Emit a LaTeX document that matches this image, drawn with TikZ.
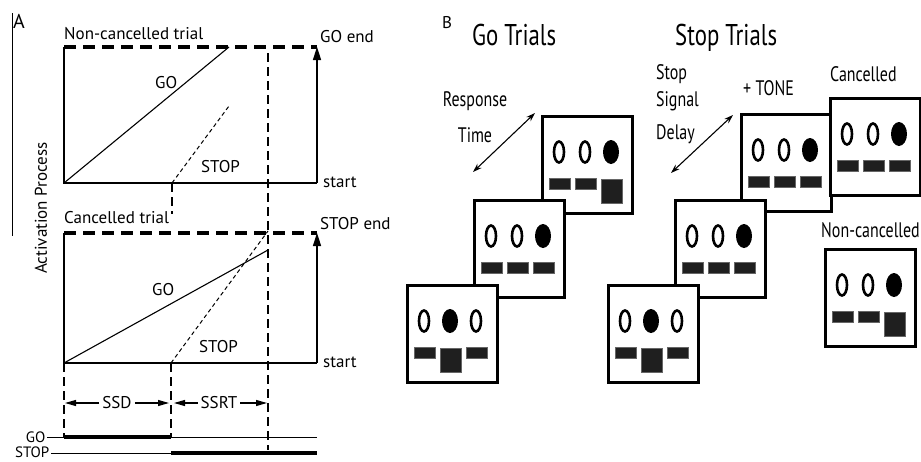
\documentclass[tikz,border=0pt]{standalone}
\usepackage{fontspec}
\setmainfont{PT Sans}
\newfontfamily\condfont[FakeStretch=0.76]{PT Sans}
\usetikzlibrary{arrows.meta}
\newcommand{\openring}[1]{\draw[ringline] (#1,37) ellipse [x radius=5pt, y radius=10.5pt];}
\newcommand{\fulldot}[1]{\fill (#1,37) ellipse [x radius=8pt, y radius=12pt];}
\newcommand{\keybar}[1]{\filldraw[keystyle] (#1,63) rectangle +(21,11);}
\newcommand{\keysq}[1]{\filldraw[keystyle] (#1,64) rectangle +(21,24);}
\newcommand{\screenat}[4]{%
  \begin{scope}[shift={(#2,#3)}]
    \node[screen] (#1) at (0,0) {};
    #4
  \end{scope}}
\newcommand{\rowOOF}{\openring{18}\openring{44}\fulldot{70}}
\newcommand{\rowOFO}{\openring{18}\fulldot{44}\openring{70}}
\newcommand{\keysBBB}{\keybar{8}\keybar{34}\keybar{60}}
\newcommand{\keysBBS}{\keybar{8}\keybar{34}\keysq{60}}
\newcommand{\keysBSB}{\keybar{8}\keysq{34}\keybar{60}}
\begin{document}
\begin{tikzpicture}[x=1pt,y=-1pt,
  lbl/.style={font=\fontsize{17}{20}\selectfont, inner sep=0pt},
  smlbl/.style={font=\fontsize{15}{17}\selectfont, inner sep=1.5pt},
  blbl/.style={font=\condfont\fontsize{21}{24}\selectfont, inner sep=0pt},
  ttl/.style={font=\condfont\fontsize{30}{32}\selectfont, inner sep=0pt},
  axisline/.style={line width=1.1pt},
  enddash/.style={line width=3.5pt, dash pattern=on 12pt off 7pt},
  vdash/.style={line width=1.1pt, dash pattern=on 9pt off 5pt},
  stopdash/.style={line width=1pt, dash pattern=on 4pt off 3pt},
  uparr/.style={line width=1.6pt, -{Triangle[length=13pt,width=8pt]}},
  spanarr/.style={line width=1.1pt, -{Triangle[length=11pt,width=6pt]}},
  duoarr/.style={line width=1.1pt, {Stealth[length=9pt,width=6pt]}-{Stealth[length=9pt,width=6pt]}},
  screen/.style={draw, line width=3pt, fill=white, minimum width=90pt, minimum height=97pt, anchor=north west, inner sep=0pt},
  ringline/.style={line width=2.6pt},
  keystyle/.style={fill=black!88, draw=black!60, line width=1pt},
  thickbar/.style={line width=4pt}
]
\useasboundingbox (0,0) rectangle (921,461);

% ---------------- Panel A ----------------
\node[font=\fontsize{20}{22}\selectfont, inner sep=0pt, anchor=base west] (labA) at (13,28) {A};
\coordinate (sideT) at (12,13);
\coordinate (sideB) at (12,236);
\draw[line width=0.8pt] (sideT) -- (sideB);
\node[lbl, rotate=90, anchor=center] (ylab) at (41,208) {Activation Process};

% top plot
\coordinate (t0) at (64,47);
\coordinate (t1) at (317,47);
\coordinate (b0) at (64,183);
\coordinate (b1) at (317,183);
\coordinate (goT) at (229,47);
\coordinate (ssdT) at (172,183);
\coordinate (ssdTlow) at (172,214);
\coordinate (stopT) at (229,106);
\draw[axisline] (t0) -- (b0) -- (b1);
\draw[enddash] (t0) -- (t1);
\draw[uparr] (b1) -- (t1);
\draw[line width=1.1pt] (b0) -- (goT);
\draw[stopdash] (ssdT) -- (stopT);
\draw[vdash] (ssdT) -- (ssdTlow);
\node[lbl, anchor=base west] (nct) at (64,39) {Non-cancelled trial};
\node[lbl, anchor=base west] (goend) at (320,42) {GO end};
\node[lbl, anchor=base west] (go1) at (155,88) {GO};
\node[lbl, anchor=base west] (stop1) at (201,172) {STOP};
\node[lbl, anchor=base west] (start1) at (323,187) {start};

% bottom plot
\coordinate (u0) at (64,233);
\coordinate (u1) at (317,233);
\coordinate (l0) at (64,363);
\coordinate (l1) at (317,363);
\coordinate (goB) at (268,250);
\coordinate (ssdB) at (171,363);
\coordinate (stopB) at (268,231);
\draw[axisline] (u0) -- (l0) -- (l1);
\draw[enddash] (u0) -- (u1);
\draw[uparr] (l1) -- (u1);
\draw[line width=1.1pt] (l0) -- (goB);
\draw[stopdash] (ssdB) -- (stopB);
\node[lbl, anchor=base west] (ct) at (64,223) {Cancelled trial};
\node[lbl, anchor=base west] (stopend) at (320,229) {STOP end};
\node[lbl, anchor=base west] (go2) at (152,295) {GO};
\node[lbl, anchor=base west] (stop2) at (199,352) {STOP};
\node[lbl, anchor=base west] (start2) at (323,367) {start};

% vertical markers
\coordinate (v3top) at (268,53);
\coordinate (v3bot) at (268,450);
\coordinate (v1bot) at (64,437);
\coordinate (v2bot) at (171,437);
\draw[vdash] (v3top) -- (v3bot);
\draw[vdash] (l0) -- (v1bot);
\draw[vdash] (ssdB) -- (v2bot);

% SSD / SSRT
\coordinate (m0) at (65,403);
\coordinate (m1) at (169,403);
\coordinate (m2) at (174,403);
\coordinate (m3) at (267,403);
\node[lbl, inner sep=3pt] (ssd) at (117,403) {SSD};
\node[lbl, inner sep=3pt] (ssrt) at (219,403) {SSRT};
\draw[spanarr] (ssd) -- (m0);
\draw[spanarr] (ssd) -- (m1);
\draw[spanarr] (ssrt) -- (m2);
\draw[spanarr] (ssrt) -- (m3);

% timelines
\node[smlbl, anchor=east] (golbl) at (47,437) {GO};
\node[smlbl, anchor=east] (stoplbl) at (51,452) {STOP};
\coordinate (goLineEnd) at (317,437);
\coordinate (stopLineStart) at (171,453);
\coordinate (stopLineEnd) at (317,453);
\draw[line width=1pt] (golbl.east) -- (goLineEnd);
\draw[line width=1pt] (stoplbl.east |- stopLineEnd) -- (stopLineEnd);
\draw[thickbar] (v1bot) -- (v2bot);
\draw[thickbar] (stopLineStart) -- (stopLineEnd);

% ---------------- Panel B ----------------
\node[font=\fontsize{17}{18}\selectfont, inner sep=0pt, anchor=base west] (labB) at (442,28) {B};
\node[ttl, anchor=base west] (gotitle) at (472,45) {Go Trials};
\node[ttl, anchor=base west] (stoptitle) at (675,45) {Stop Trials};

% go trials screens
\screenat{g1}{541}{115}{\rowOOF\keysBBS}
\screenat{g2}{473}{199}{\rowOOF\keysBBB}
\screenat{g3}{406}{284}{\rowOFO\keysBSB}

% stop trials screens
\screenat{s1}{740}{113}{\rowOOF\keysBBB}
\screenat{sc}{829}{97}{\rowOOF\keysBBB}
\screenat{s2}{674}{199}{\rowOOF\keysBBB}
\screenat{s3}{607}{284}{\rowOFO\keysBSB}
\screenat{snc}{824}{248}{\rowOOF\keysBBS}

% labels B
\node[blbl, anchor=base] (resp) at (475,106) {Response};
\node[blbl, anchor=base] (rtime) at (475,142) {Time};
\node[blbl, anchor=base west] (ssd1) at (656,79) {Stop};
\node[blbl, anchor=base west] (ssd2) at (656,106) {Signal};
\node[blbl, anchor=base west] (ssd3) at (656,139) {Delay};
\node[blbl, anchor=base west] (tone) at (743,95) {+ TONE};
\node[blbl, anchor=base west] (canc) at (830,81) {Cancelled};
\node[blbl, anchor=base east] (ncanc) at (920,237) {Non-cancelled};

\coordinate (ra) at (473,172);
\coordinate (rb) at (535,113);
\coordinate (sa) at (671,173);
\coordinate (sb) at (733,115);
\draw[duoarr] (ra) -- (rb);
\draw[duoarr] (sa) -- (sb);
\end{tikzpicture}
\end{document}
